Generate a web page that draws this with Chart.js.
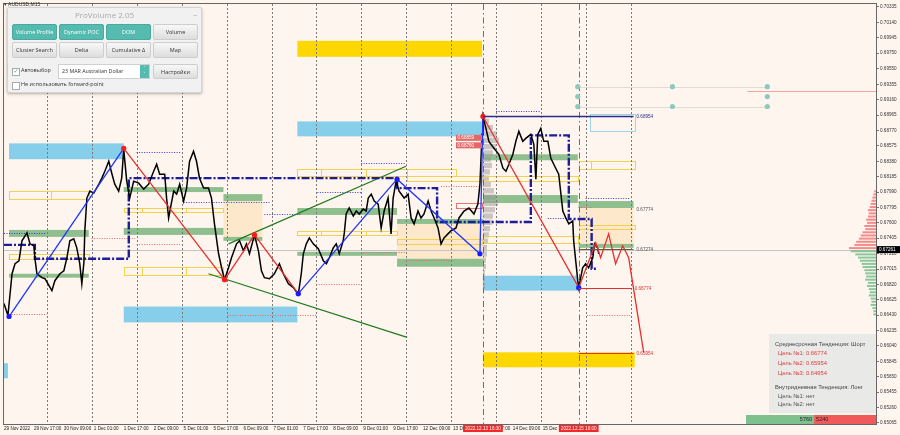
<!DOCTYPE html>
<html lang="ru">
<head>
<meta charset="utf-8">
<title>AUDUSD M15 – ProVolume</title>
<script src="https://cdn.jsdelivr.net/npm/chart.js@4.4.1/dist/chart.umd.min.js"></script>
<style>
html, body { margin: 0; padding: 0; background: #fef5ee; }
#wrap { position: relative; width: 900px; height: 435px; overflow: hidden; }
#chart { position: absolute; left: 0; top: 0; }
#sym { position: absolute; left: 4px; top: 1px; font: 5px "Liberation Sans", sans-serif; color: #333; }
#panel { position: absolute; left: 7px; top: 7px; width: 193px; height: 84px; background: #f1f1f1; border: 1px solid #d4d4d4; border-radius: 2px; box-shadow: 0 1px 3px rgba(0,0,0,.3); font-family: "Open Sans", "DejaVu Sans", sans-serif; }
#panel .title { position: absolute; left: 0; top: 1px; width: 100%; text-align: center; font-size: 8px; color: #aaaaaa; }
#panel .min { position: absolute; right: 4px; top: -2px; font-size: 8px; color: #999; }
#panel .accent { position: absolute; left: -1px; top: 55px; width: 1px; height: 15px; background: #f0d060; }
.btn { position: absolute; width: 45px; height: 16px; border-radius: 2px; font-size: 5.5px; line-height: 14px; text-align: center; box-sizing: border-box; white-space: nowrap; }
.btn.on { background: #55bab0; color: #fff; border: 1px solid #4aa89f; }
.btn.off { background: linear-gradient(#f8f8f8, #dddddd); color: #333; border: 1px solid #cdcdcd; }
.chk { position: absolute; width: 6px; height: 6px; border: 1px solid #aaa; background: #fff; font-size: 6px; line-height: 5px; color: #3aa89c; text-align: center; }
.lbl { position: absolute; font-size: 5.5px; line-height: 7px; color: #333; white-space: nowrap; }
.sel { position: absolute; left: 50px; top: 56px; width: 92px; height: 15px; background: #fff; border: 1px solid #d0d0d0; box-sizing: border-box; font-size: 5.3px; line-height: 13px; padding-left: 3px; color: #333; white-space: nowrap; }
.sel .arr { position: absolute; right: 0; top: 0; width: 9px; height: 100%; background: #55bab0; color: #fff; font-size: 4px; line-height: 6px; text-align: center; }
#info { position: absolute; left: 769px; top: 334px; width: 107px; height: 79px; background: rgba(231,231,231,.93); font: 5.8px "Liberation Sans", sans-serif; color: #444; }
#info div { position: absolute; white-space: nowrap; line-height: 7px; }
#info .t { color: #e03a3a; }
#info .g { color: #555; }
</style>
</head>
<body>
<div id="wrap">
  <canvas id="chart" width="900" height="435"></canvas>
  <div id="sym">▾ AUDUSD,M15</div>
  <div id="panel">
    <div class="title">ProVolume 2.05</div>
    <div class="min">_</div>
    <div class="accent"></div>
    <div class="btn on" style="left:4px;top:16px">Volume Profile</div>
    <div class="btn on" style="left:51px;top:16px">Dynamic POC</div>
    <div class="btn on" style="left:98px;top:16px">DOM</div>
    <div class="btn off" style="left:145px;top:16px">Volume</div>
    <div class="btn off" style="left:4px;top:34px">Cluster Search</div>
    <div class="btn off" style="left:51px;top:34px">Delta</div>
    <div class="btn off" style="left:98px;top:34px">Cumulative Δ</div>
    <div class="btn off" style="left:145px;top:34px">Map</div>
    <div class="chk" style="left:4px;top:60px">✓</div>
    <div class="lbl" style="left:13px;top:59px">Автовыбор</div>
    <div class="sel">23 MAR Australian Dollar<span class="arr">˄<br>˅</span></div>
    <div class="btn off" style="left:145px;top:56px;height:15px">Настройки</div>
    <div class="chk" style="left:4px;top:74px"></div>
    <div class="lbl" style="left:13px;top:73px">Не использовать forward-point</div>
  </div>
  <div id="info">
    <div style="left:6px;top:6.5px">Среднесрочная Тенденция: Шорт</div>
    <div class="t" style="left:9px;top:15.5px">Цель №1: 0.66774</div>
    <div class="t" style="left:9px;top:25.5px">Цель №2: 0.65954</div>
    <div class="t" style="left:9px;top:35.5px">Цель №3: 0.64954</div>
    <div style="left:6px;top:49.5px">Внутридневная Тенденция: Лонг</div>
    <div class="g" style="left:9px;top:58.5px">Цель №1: нет</div>
    <div class="g" style="left:9px;top:66.5px">Цель №2: нет</div>
  </div>
</div>
<script>
// time axis: hours counted from 29 Nov 2022 01:00 (weekends collapsed)
const timeTicks = [0, 16, 32, 48, 64, 80, 96, 112, 128, 144, 160, 176, 192, 208, 224, 240, 256, 272, 288];
const timeLabels = ['29 Nov 2022', '29 Nov 17:00', '30 Nov 09:00', '1 Dec 01:00', '1 Dec 17:00', '2 Dec 09:00',
  '5 Dec 01:00', '5 Dec 17:00', '6 Dec 09:00', '7 Dec 01:00', '7 Dec 17:00', '8 Dec 09:00', '9 Dec 01:00',
  '9 Dec 17:00', '12 Dec 09:00', '13 Dec 01:00', '13 Dec 17:00', '14 Dec 09:00', '15 Dec 01:00'];
const priceTicks = [0.65065, 0.65260, 0.65455, 0.65650, 0.65845, 0.66040, 0.66235, 0.66430, 0.66625, 0.66820,
  0.67015, 0.67210, 0.67405, 0.67600, 0.67795, 0.67990, 0.68185, 0.68380, 0.68575, 0.68770, 0.68965, 0.69160,
  0.69355, 0.69550, 0.69750, 0.69945, 0.70140, 0.70335];
const daySeparators = [23, 47, 71, 95, 119, 143, 167, 191, 215, 239, 263, 287, 311, 335];
const markerHours = [256, 307.2];
const markerLabels = ['2022.12.13 16:30', '2022.12.15 10:00'];
const lastPrice = 0.67261;

// AUDUSD close path
const priceHours = [0, 2.1, 4.3, 5.9, 8, 9.6, 12.3, 13.9, 16, 16.5, 17.6, 20.3, 21.9, 25.6, 27.2, 29.9, 32, 33.6, 35.2, 37.3,
  38.9, 40.5, 41.6, 42.7, 43.2, 44.3, 45.9, 48, 50.7, 52.3, 53.9, 56, 57.6, 59.2, 61.3, 62.9, 64, 65.6, 67.2, 69.3,
  72, 74.7, 77.3, 80, 81.6, 83.2, 85.9, 86.9, 88, 88.5, 90.7, 92.3, 93.9, 96, 97.6, 99.2, 101.3, 102.9, 104.5, 106.7,
  109.3, 110.9, 112.5, 114.7, 116.3, 117.9, 120, 121.6, 124.3, 125.9, 128, 129.6, 131.2, 133.9, 136, 137.6, 139.2, 141.9, 144.5, 147.2,
  149.3, 152, 154.7, 157.3, 158.9, 160, 161.6, 163.2, 165.3, 168, 170.7, 172.3, 173.9, 176, 177.6, 179.2, 181.3, 181.9, 182.9, 184.5,
  186.7, 188.3, 189.9, 192, 193.6, 194.7, 196.3, 197.9, 200, 201.6, 203.2, 205.3, 206.9, 208, 209.6, 211.2, 213.9, 216, 217.6, 219.2,
  221.3, 222.9, 224.5, 226.7, 228.3, 229.9, 232, 233.6, 235.2, 237.3, 238.9, 241.6, 243.2, 245.9, 248.5, 251.2, 253.3, 254.4, 255.5, 256,
  257.6, 259.2, 261.9, 264.5, 266.7, 268.3, 269.9, 272, 273.6, 275.2, 277.3, 278.9, 281.6, 283.2, 284.3, 285.3, 286.9, 288.5, 290.7, 292.3,
  294.9, 296.5, 298.7, 300.3, 301.9, 304, 304.5, 305.6, 306.7, 307.2, 309.3, 310.9, 312.5, 314.7, 315.7, 317.3, 317.9];
const priceValues = [0.66577, 0.66426, 0.66955, 0.67082, 0.67119, 0.67372, 0.67472, 0.67334, 0.67309, 0.67157,
  0.66955, 0.66905, 0.66892, 0.66741, 0.66867, 0.66955, 0.66993, 0.67157, 0.67372, 0.67397,
  0.67283, 0.67082, 0.66829, 0.67094, 0.67498, 0.67914, 0.68002, 0.67977, 0.68090, 0.68166,
  0.68254, 0.68380, 0.68229, 0.68090, 0.68002, 0.68166, 0.68530, 0.68128, 0.67914, 0.68128,
  0.68103, 0.68027, 0.68090, 0.68254, 0.68343, 0.68217, 0.68217, 0.67914, 0.67662, 0.67725,
  0.68002, 0.67964, 0.68090, 0.67876, 0.68040, 0.68380, 0.68507, 0.68380, 0.68166, 0.68040,
  0.68040, 0.67914, 0.67586, 0.67208, 0.67031, 0.66880, 0.67031, 0.67157, 0.67334, 0.67372,
  0.67246, 0.67334, 0.67208, 0.67447, 0.67246, 0.66993, 0.66905, 0.66892, 0.66955, 0.67082,
  0.66955, 0.66829, 0.66779, 0.66691, 0.66955, 0.67208, 0.67334, 0.67409, 0.67334, 0.67271,
  0.67119, 0.67082, 0.67157, 0.67283, 0.67334, 0.67208, 0.67372, 0.67472, 0.67712, 0.67788,
  0.67687, 0.67750, 0.67712, 0.67775, 0.67750, 0.67914, 0.67964, 0.67876, 0.67838, 0.67536,
  0.67750, 0.67914, 0.67460, 0.67914, 0.68128, 0.68002, 0.67914, 0.67964, 0.67662, 0.67586,
  0.67750, 0.67662, 0.67712, 0.67876, 0.67750, 0.67662, 0.67536, 0.67334, 0.67409, 0.67460,
  0.67498, 0.67536, 0.67662, 0.67750, 0.67788, 0.67712, 0.67838, 0.68090, 0.68721, 0.68948,
  0.68797, 0.68633, 0.68544, 0.68469, 0.68292, 0.68254, 0.68343, 0.68469, 0.68633, 0.68759,
  0.68633, 0.68670, 0.68721, 0.68595, 0.68153, 0.68721, 0.68797, 0.68633, 0.68633, 0.68418,
  0.68292, 0.68217, 0.67750, 0.67662, 0.67586, 0.67624, 0.67372, 0.67119, 0.66867, 0.66779,
  0.67031, 0.67082, 0.67031, 0.67157, 0.67334, 0.67283, 0.67208];

// zigzag swings + forecast path
const zigHours = [2.7, 64, 117.9, 133.9, 157.3, 210.1, 254.4, 256, 307.2, 316.3, 318.9, 323.2, 326.9, 330.7, 333.9, 341.9];
const zigValues = [0.66413, 0.68544, 0.66880, 0.67447, 0.66703, 0.68153, 0.67208, 0.68948, 0.66779, 0.67347,
  0.67157, 0.67460, 0.67082, 0.67309, 0.67157, 0.65959];

// dynamic POC steps (each value holds until the next hour)
const pocHours = [0, 16.5, 66.7, 210.1, 231.5, 281.6, 301.9, 314.1, 316.8];
const pocValues = [0.67321, 0.67145, 0.68166, 0.68040, 0.67611, 0.68708, 0.67649, 0.67019, 0.67019];

// trend channel lines [h1, h2] / [p1, p2]
const trendHours = [[120, 214.9], [109.3, 215.5]];
const trendValues = [[0.67334, 0.68317], [0.66955, 0.66148]];

// zones: [fromHour, toHour, topPrice, bottomPrice]
const skyZones = [[2.7, 64, 0.68607, 0.68406], [156.8, 255.5, 0.68885, 0.68696], [64, 156.8, 0.66539, 0.66338],
  [256, 306.7, 0.66930, 0.66741], [0, 2.1, 0.65821, 0.65631]];
const goldZones = [[156.8, 255.5, 0.69906, 0.69704], [256, 337.1, 0.65959, 0.65770]];
const greenZones = [[2.7, 45.3, 0.67510, 0.67422], [2.7, 45.3, 0.66955, 0.66905], [64, 117.3, 0.68053, 0.67990],
  [64, 117.3, 0.67536, 0.67447], [117.3, 138.1, 0.67964, 0.67876], [117.3, 138.1, 0.67422, 0.67372],
  [156.8, 210.1, 0.67788, 0.67700], [156.8, 210.1, 0.67233, 0.67182], [210.1, 256, 0.67649, 0.67586],
  [210.1, 256, 0.67145, 0.67044], [256, 306.7, 0.68469, 0.68393], [256, 306.7, 0.67952, 0.67851],
  [307.2, 336.5, 0.67876, 0.67788], [307.2, 336.5, 0.67334, 0.67283]];
const sandZones = [[117.3, 138.1, 0.67876, 0.67422], [210.1, 256, 0.67586, 0.67145], [307.2, 336.5, 0.67788, 0.67334]];
const goldFrames = [[2.7, 45.3, 0.68002, 0.67901], [2.7, 45.3, 0.67208, 0.67145], [64, 117.3, 0.67788, 0.67737],
  [64, 117.3, 0.67044, 0.66943], [156.8, 241.6, 0.68280, 0.68191], [156.8, 210.1, 0.67498, 0.67447],
  [210.1, 255.5, 0.67397, 0.67334], [215.5, 306.7, 0.68191, 0.68128], [256, 306.7, 0.67435, 0.67347],
  [307.2, 337.1, 0.68380, 0.68280], [307.2, 337.1, 0.67573, 0.67523]];
const goldSplits = [[25.1], [25.1], [73.6, 97.1], [73.6, 97.1], [169.6, 193.6, 215.5], [169.6, 193.6], [], [], [], [313.6], []];
const salmonFrames = [[241.6, 255.5, 0.67851, 0.67788]];
const iceFrames = [[313.1, 337.1, 0.68973, 0.68759]];

// dotted levels: [fromHour, toHour, price]
const blueDotted = [[70.9, 94.9, 0.68494], [0, 21.9, 0.67472], [96, 141.9, 0.67863], [139.2, 158.9, 0.67712],
  [190.9, 214.9, 0.68355], [167.5, 190.9, 0.67990], [263, 287, 0.69011], [290.7, 301.3, 0.67662], [310.9, 334.9, 0.67914]];
const redDotted = [[2.7, 22.9, 0.66451], [46.9, 69.9, 0.67409], [70.9, 94.9, 0.67334], [119.5, 166.9, 0.66426],
  [166.9, 190.9, 0.66829], [190.9, 214.9, 0.67233], [214.9, 238.9, 0.67132], [233.6, 256.5, 0.68065],
  [311.5, 334.9, 0.66438], [307.2, 315.2, 0.67800]];

// targets
const targetLevels = [0.68954, 0.67774, 0.67274, 0.66774, 0.65954];
const targetFrom = [256, 307.2, 307.2, 307.2, 307.2];
const targetTo = [336.5, 336.5, 336.5, 335.5, 336.5];
const chipPrices = [0.68677, 0.68582];
const chipTexts = ['0.68859', '0.68760'];

// pivot markers
const pivotHours = [306.7, 357.3, 408, 306.7, 408, 306.7, 357.3, 408];
const pivotValues = [0.69326, 0.69326, 0.69326, 0.69200, 0.69200, 0.69074, 0.69074, 0.69074];
const pivotRails = [0.69326, 0.69074];
const pinkLevel = 0.69276;

// volume profile (ask above last price, bid below)
const askPrices = [0.6728, 0.6732, 0.6736, 0.6740, 0.6744, 0.6748, 0.6752, 0.6756, 0.6760, 0.6764, 0.6768, 0.6772,
  0.6776, 0.6780, 0.6784, 0.6788, 0.6792, 0.6796, 0.6800];
const askVolumes = [30, 24, 22, 19, 17, 15, 12, 13, 10, 11, 9, 8, 9, 7, 6, 5, 4, 3, 2];
const bidPrices = [0.6724, 0.6720, 0.6716, 0.6712, 0.6708, 0.6704, 0.6700, 0.6696, 0.6692, 0.6688, 0.6684, 0.6680,
  0.6676, 0.6672, 0.6668, 0.6664, 0.6660, 0.6656, 0.6652, 0.6648, 0.6644];
const bidVolumes = [28, 23, 20, 18, 16, 15, 13, 12, 11, 12, 9, 10, 8, 7, 8, 6, 5, 6, 4, 3, 3];
const buySell = [5760, 5240];

// session profile drawn from the 13 Dec 16:30 marker
const sessionPrices = [0.6888, 0.6880, 0.6872, 0.6864, 0.6856, 0.6848, 0.6840, 0.6832, 0.6824, 0.6816, 0.6808, 0.6800,
  0.6792, 0.6784, 0.6776, 0.6768, 0.6760, 0.6752, 0.6744, 0.6736, 0.6728, 0.6720, 0.6712, 0.6704, 0.6696, 0.6688, 0.6680];
const sessionVolumes = [6, 10, 14, 16, 13, 10, 8, 9, 7, 6, 8, 11, 13, 15, 12, 10, 9, 7, 6, 5, 4, 4, 3, 3, 2, 2, 2];

const blueLegs = [0, 4, 5, 6];
const redDots = [1, 2, 3, 7];
const dotCount = 9;

const pts = (hs, vs) => hs.map((h, i) => ({ x: h, y: vs[i] }));

const overlay = {
  id: 'overlay',
  beforeDatasetsDraw(chart) {
    const { ctx, chartArea: a, scales: { x, y } } = chart;
    const X = v => x.getPixelForValue(v);
    const Y = v => y.getPixelForValue(v);
    const px = v => Math.round(v) + 0.5;
    const line = (x1, y1, x2, y2) => { ctx.beginPath(); ctx.moveTo(x1, y1); ctx.lineTo(x2, y2); ctx.stroke(); };
    const fill = (zones, color) => {
      ctx.fillStyle = color;
      zones.forEach(z => ctx.fillRect(X(z[0]), Y(z[2]), X(z[1]) - X(z[0]), Y(z[3]) - Y(z[2])));
    };
    const frames = (list, color, splits) => {
      ctx.strokeStyle = color;
      list.forEach((f, i) => {
        const x1 = px(X(f[0])), x2 = px(X(f[1])), y1 = px(Y(f[2])), y2 = px(Y(f[3]));
        ctx.strokeRect(x1, y1, x2 - x1, y2 - y1);
        if (splits) splits[i].forEach(h => line(px(X(h)), y1, px(X(h)), y2));
      });
    };
    ctx.save();
    ctx.beginPath(); ctx.rect(a.left, a.top, a.width, a.height); ctx.clip();

    fill(sandZones, 'rgba(253,224,182,0.6)');
    fill(skyZones, '#87ceeb');
    fill(goldZones, '#ffd700');
    fill(greenZones, '#8fbf8f');

    // session volume profile (grey)
    ctx.fillStyle = 'rgba(150,150,150,0.5)';
    const sx = X(markerHours[0]), step = Math.abs(Y(0.6880) - Y(0.6888));
    sessionPrices.forEach((p, i) => ctx.fillRect(sx, Y(p) - step / 2, sessionVolumes[i], step - 1));

    ctx.lineWidth = 1;
    frames(goldFrames, '#f1d24c', goldSplits);
    frames(salmonFrames, '#e57373');
    frames(iceFrames, '#9fd3e6');

    // day separators
    ctx.strokeStyle = '#7a7a7a';
    ctx.setLineDash([2, 2]);
    daySeparators.forEach(h => line(px(X(h)), a.top, px(X(h)), a.bottom));

    // dotted levels
    ctx.setLineDash([1, 1.5]);
    ctx.strokeStyle = '#3b3bd6';
    blueDotted.forEach(d => line(X(d[0]), px(Y(d[2])), X(d[1]), px(Y(d[2]))));
    ctx.strokeStyle = '#e06a6a';
    redDotted.forEach(d => line(X(d[0]), px(Y(d[2])), X(d[1]), px(Y(d[2]))));

    // last price line
    ctx.setLineDash([]);
    ctx.strokeStyle = '#c4c4c4';
    line(a.left, px(Y(lastPrice)), a.right, px(Y(lastPrice)));

    // session markers
    ctx.strokeStyle = '#e23c3c';
    ctx.setLineDash([6, 3, 1.5, 3]);
    markerHours.forEach(h => line(px(X(h)), a.top, px(X(h)), a.bottom));
    ctx.setLineDash([]);

    // pivot rails and dots
    ctx.strokeStyle = '#e2dcd6';
    pivotRails.forEach(p => line(X(pivotHours[0]), px(Y(p)), X(pivotHours[2]), px(Y(p))));
    ctx.strokeStyle = '#f3a6a0';
    line(X(397.3), px(Y(pinkLevel)), a.right, px(Y(pinkLevel)));
    ctx.fillStyle = '#8ec9bf';
    pivotHours.forEach((h, i) => { ctx.beginPath(); ctx.arc(X(h), Y(pivotValues[i]), 2.6, 0, Math.PI * 2); ctx.fill(); });

    // volume profile
    ctx.fillStyle = 'rgba(240,122,122,0.85)';
    askPrices.forEach((p, i) => ctx.fillRect(a.right - askVolumes[i] * 0.9, Y(p) - 1, askVolumes[i] * 0.9, 2));
    ctx.fillStyle = 'rgba(120,190,140,0.85)';
    bidPrices.forEach((p, i) => ctx.fillRect(a.right - bidVolumes[i] * 0.9, Y(p) - 1, bidVolumes[i] * 0.9, 2));

    ctx.restore();
  },
  afterDatasetsDraw(chart) {
    const { ctx, chartArea: a, scales: { x, y } } = chart;
    const X = v => x.getPixelForValue(v);
    const Y = v => y.getPixelForValue(v);
    const px = v => Math.round(v) + 0.5;
    ctx.save();
    const lineColors = ['#2c2c8c', null, '#6b5a2a', '#e03030', '#e03030'];
    const textColors = ['#2c2c8c', '#555', '#555', '#e03030', '#e03030'];
    ctx.font = '4.6px "Liberation Sans"';
    ctx.textBaseline = 'middle';
    targetLevels.forEach((p, i) => {
      const yy = px(Y(p));
      if (lineColors[i]) {
        ctx.strokeStyle = lineColors[i];
        ctx.lineWidth = i === 0 ? 1.5 : 1;
        ctx.beginPath(); ctx.moveTo(X(targetFrom[i]), yy); ctx.lineTo(X(targetTo[i]), yy); ctx.stroke();
      }
      ctx.fillStyle = textColors[i];
      ctx.fillText(p.toFixed(5), X(targetTo[i]) + 3, yy);
    });
    chipPrices.forEach((p, i) => {
      const x1 = X(241.6), w = X(255.5) - x1, yy = Y(p);
      ctx.fillStyle = '#e46868';
      ctx.fillRect(x1, yy - 3, w, 6);
      ctx.fillStyle = '#fff';
      ctx.fillText(chipTexts[i], x1 + 1.5, yy);
    });
    // buy / sell bar
    const total = buySell[0] + buySell[1];
    const bw = 130, bx = a.right - bw, by = a.bottom - 9;
    const gw = bw * buySell[0] / total;
    ctx.fillStyle = '#7fc08f';
    ctx.fillRect(bx, by, gw, 9);
    ctx.fillStyle = '#f05a5a';
    ctx.fillRect(bx + gw, by, bw - gw, 9);
    ctx.font = '5.5px "Liberation Sans"';
    ctx.fillStyle = '#222';
    ctx.textAlign = 'right';
    ctx.fillText(String(buySell[0]), bx + gw - 2, by + 4.5);
    ctx.textAlign = 'left';
    ctx.fillText(String(buySell[1]), bx + gw + 2, by + 4.5);
    ctx.restore();
  },
  afterDraw(chart) {
    const { ctx, chartArea: a, scales: { x, y } } = chart;
    ctx.save();
    ctx.strokeStyle = '#666';
    ctx.lineWidth = 1;
    ctx.strokeRect(a.left - 0.5, a.top - 0.5, a.width + 1, a.height + 1);
    ctx.font = '4.6px "Liberation Sans"';
    ctx.textBaseline = 'middle';
    ctx.textAlign = 'center';
    markerHours.forEach((h, i) => {
      const cx = x.getPixelForValue(h);
      const w = ctx.measureText(markerLabels[i]).width + 4;
      ctx.fillStyle = '#f02a2a';
      ctx.fillRect(cx - w / 2, a.bottom + 1, w, 7);
      ctx.fillStyle = '#fff';
      ctx.fillText(markerLabels[i], cx, a.bottom + 4.8);
    });
    const ly = y.getPixelForValue(lastPrice);
    ctx.fillStyle = '#000';
    ctx.fillRect(a.right + 1, ly - 3.5, 23, 7);
    ctx.fillStyle = '#fff';
    ctx.textAlign = 'left';
    ctx.fillText(lastPrice.toFixed(5), a.right + 3, ly + 0.3);
    ctx.restore();
  }
};

new Chart(document.getElementById('chart'), {
  type: 'scatter',
  data: {
    datasets: [
      {
        data: pts(zigHours, zigValues), showLine: true, borderWidth: 1.3,
        segment: { borderColor: c => blueLegs.includes(c.p0DataIndex) ? '#1f35ff' : '#e8302e' },
        pointRadius: c => c.dataIndex < dotCount ? 2.6 : 0,
        pointBorderWidth: 0,
        pointBackgroundColor: c => redDots.includes(c.dataIndex) ? '#ff1a1a' : '#1a1aff'
      },
      { data: pts(priceHours, priceValues), showLine: true, borderColor: '#000', borderWidth: 1.5, pointRadius: 0 },
      { data: pts(pocHours, pocValues), showLine: true, stepped: 'before', borderColor: '#1e1e9a', borderWidth: 2.4, borderDash: [8, 2, 2, 2], pointRadius: 0 },
      { data: pts(trendHours[0], trendValues[0]), showLine: true, borderColor: '#1f7a1f', borderWidth: 1.2, pointRadius: 0 },
      { data: pts(trendHours[1], trendValues[1]), showLine: true, borderColor: '#1f7a1f', borderWidth: 1.2, pointRadius: 0 }
    ]
  },
  options: {
    responsive: false,
    animation: false,
    events: [],
    layout: { padding: { left: 2, top: 2 } },
    plugins: { legend: { display: false }, tooltip: { enabled: false } },
    scales: {
      x: {
        type: 'linear', min: 0, max: 466.1,
        afterFit: s => { s.height = 11; },
        afterBuildTicks: s => { s.ticks = timeTicks.map(v => ({ value: v })); },
        ticks: {
          align: 'start', autoSkip: false, maxRotation: 0, padding: 2, color: '#222',
          font: { family: 'Liberation Sans', size: 4.6 },
          callback: (v, i) => timeLabels[i]
        },
        grid: { display: false, drawTicks: false },
        border: { display: false }
      },
      y: {
        type: 'linear', position: 'right', min: 0.65051, max: 0.70373,
        afterFit: s => { s.width = 24; },
        afterBuildTicks: s => { s.ticks = priceTicks.map(v => ({ value: v })); },
        ticks: {
          padding: 1, color: '#333',
          font: { family: 'Liberation Sans', size: 4.6 },
          callback: v => v.toFixed(5)
        },
        grid: { drawOnChartArea: false, tickLength: 3, color: '#777' },
        border: { display: false }
      }
    }
  },
  plugins: [overlay]
});
</script>
</body>
</html>
